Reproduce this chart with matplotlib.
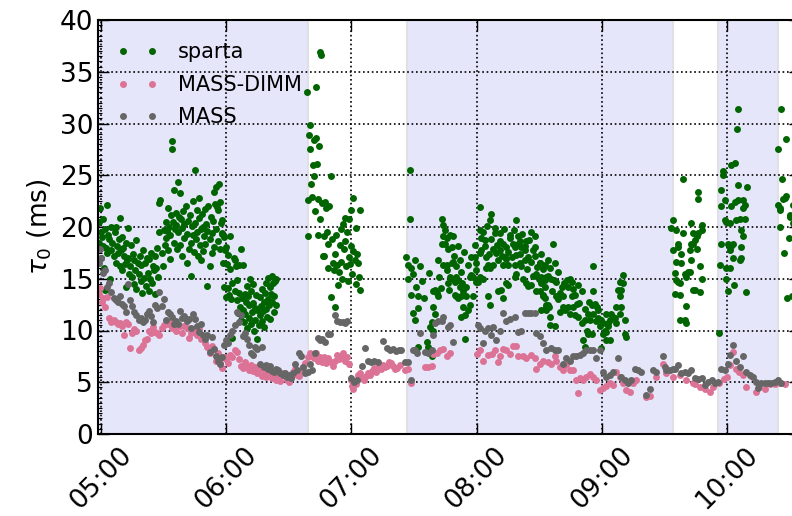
import datetime
import numpy as np
import matplotlib
matplotlib.use("Agg")
import matplotlib.pyplot as plt
import matplotlib.dates as mdates
from matplotlib.ticker import MultipleLocator

# times are minutes after 05:00, values are tau_0 in ms
sparta_a = [(-1, 18.5), (-1, 20.5), (-0.5, 21.8), (0, 19.5), (0, 17), (0.5, 19), (1, 20.8), (1, 18.2),
            (1.5, 16), (2, 19.8), (2, 13.9), (2.5, 18), (3, 22.1), (3, 17.5), (3.5, 19.2), (4, 18.8),
            (4.5, 15), (5, 17.8), (5, 20), (5.5, 18.5), (6, 17.2), (6.5, 19.5), (7, 20), (7, 16.5),
            (7.5, 18.2), (8, 17.5), (8.5, 18.8), (9, 20.9), (9, 16.2), (9.5, 17.8), (10, 15.8), (10, 19),
            (10.5, 18), (11, 17.2), (11.5, 16.4), (12, 14.2), (12, 18.5), (12.5, 16.8), (13, 19.9), (13, 17),
            (13.5, 15.5), (14, 16.2), (14.5, 18.3), (15, 15.2), (15.5, 17.4), (16, 14.5), (16, 16.8),
            (16.5, 15.8), (17, 18.7), (17, 14), (17.5, 16.5), (18, 15.5), (18.5, 17.2), (19, 14.8),
            (19, 16.3), (19.5, 13.6), (20, 17.8), (20.5, 15.1), (21, 16.5), (21.5, 14.3), (22, 17),
            (22.5, 15.6), (23, 13.8), (23, 16.9), (23.5, 15), (24, 17.5), (24.5, 14.6), (25, 16.2),
            (25.5, 15.8), (26, 13.5), (26, 17.2), (26.5, 16), (27, 18), (27.5, 15.2), (28, 22.3), (28, 19.5),
            (28.5, 22.6), (29, 17.5), (29.5, 16.2), (30, 19.7), (30.5, 18.3), (31, 20.5), (31, 18.9),
            (31.5, 19.6), (32, 21.8), (32, 17.8), (32.5, 20), (33, 19.2), (33, 16.9), (33.5, 21.2),
            (34, 28.3), (34, 27.5), (34.5, 20.5), (35, 23.6), (35, 18.5), (35.5, 19.8), (36, 21.4),
            (36, 20.2), (36.5, 17.9), (37, 24.3), (37, 19.5), (37.5, 21), (38, 23.3), (38, 18.3),
            (38.5, 20.8), (39, 19.9), (39, 17.2), (39.5, 21.5), (40, 20.3), (40, 18.9), (40.5, 22),
            (41, 19.3), (41, 16.5), (41.5, 20.6), (42, 17.9), (42.5, 21.2), (43, 18.5), (43, 15.3),
            (43.5, 20.1), (44, 19.2), (44, 22.5), (44.5, 17.6), (45, 25.5), (45, 20.4), (45.5, 18.8),
            (46, 21.6), (46, 19.5), (46.5, 17.2), (47, 20.9), (47, 22.8), (47.5, 18.3), (48, 19.8),
            (48, 16.8), (48.5, 21.3), (49, 20), (49, 17.7), (49.5, 19.1), (50, 21.7), (50, 18.4),
            (50.5, 20.3), (51, 14.3), (51, 19.6), (51.5, 22), (52, 18.8), (52, 16.2), (52.5, 21),
            (53, 19.4), (53, 17.5), (53.5, 20.6), (54, 23.4), (54, 18.1), (54.5, 22.2), (55, 23.9),
            (55, 19.8), (55.5, 21.9), (56, 21.6), (56, 18.6), (56.5, 24.2), (57, 22.4), (57, 17.9),
            (57.5, 20.4), (58, 19.3), (58, 20.7)]

sparta_b = [(58, 19.4), (58.5, 16.5), (59, 19), (59, 14.2), (59.5, 17.8), (60, 13.2), (60, 18.1),
            (60.5, 16.4), (61, 14.1), (61, 17.3), (61.5, 13.4), (62, 15.9), (62, 19.1), (62.5, 13),
            (63, 14.6), (63, 9.3), (63.5, 17), (64, 13.8), (64, 16.8), (64.5, 16.2), (65, 12.9),
            (65, 14.9), (65.5, 11.7), (66, 13.6), (66, 16.3), (66.5, 12.3), (67, 11), (67, 17.9),
            (67.5, 13.1), (68, 12), (68, 16.3), (68.5, 10.8), (69, 13.5), (69, 11.6), (69.5, 12.8),
            (70, 14.3), (70, 10.2), (70.5, 13.3), (71, 11.2), (71, 12.5), (71.5, 15), (72, 10.6),
            (72, 13.8), (72.5, 11.8), (73, 12.7), (73, 14.5), (73.5, 10), (74, 12.2), (74, 11),
            (74.5, 13.4), (75, 9.2), (75, 12), (75.5, 10.5), (76, 11.5), (76, 13.2), (76.5, 12.4),
            (77, 10.9), (77, 14), (77.5, 11.9), (78, 12.8), (78, 10.3), (78.5, 13.6), (79, 12.1),
            (79, 14.6), (79.5, 11.3), (80, 13), (80, 15.1), (80.5, 12.5), (81, 14.2), (81, 11.1),
            (81.5, 13.5), (82, 12.8), (82, 15.3), (82.5, 14.6), (83, 13.3), (83, 11.8), (83.5, 14.8),
            (84, 15), (84, 12.5)]

sparta_c = [(98.5, 33), (99, 22.6), (99, 19.1), (99.5, 28.9), (100, 29.9), (100, 27.5), (100.5, 24.2),
            (101, 22.9), (101.5, 26), (102, 28.4), (102, 24.9), (102.5, 21.5), (103, 33.5), (103, 28.6),
            (103.5, 26.1), (104, 19.2), (104, 22.7), (104.5, 27.8), (105, 36.9), (105.5, 36.6), (105, 20.8),
            (106, 22.3), (106.5, 17.2), (107, 19.1), (107, 17.2), (107.5, 22.4), (108, 21.8), (108.5, 19.5),
            (109, 18.4), (109, 16), (109.5, 22), (110, 24.9), (110, 13.2), (110.5, 18.8), (111, 16.5),
            (111.5, 15.8), (112, 12.3), (112, 17.4), (112.5, 19.2), (113, 16.3), (113.5, 14.4), (114, 15.7),
            (114.5, 18.3), (115, 19.8), (115, 16.6), (115.5, 15), (116, 20.3), (116.5, 17.9), (117, 18.6),
            (117, 20.9), (117.5, 16.2), (118, 19.5), (118.5, 14.8), (119, 20.8), (119, 17.1), (119.5, 16.4),
            (120, 18.2), (120, 21.6), (120.5, 15.5), (121, 22.8), (121, 17.7), (121.5, 16.8), (122, 19.9),
            (122, 14.5), (122.5, 17.4), (123, 16.5), (123.5, 15.2), (124, 13.9), (124, 21.6)]

sparta_d = [(148, 25.5), (148, 20.8), (146.4, 17.1), (147.2, 16.3), (148.8, 16), (149.6, 15.5),
            (150.4, 16.8), (147.2, 15), (148.8, 13.4), (151.2, 14.2), (152, 13.3), (149.6, 11.7),
            (150.4, 11), (152, 12.2), (152, 8.4), (156, 8.9), (156.8, 8.4), (157.6, 8.1), (158.4, 7.5),
            (159.2, 12.3), (160, 11.6), (158.4, 10.8), (159.2, 10), (157.6, 10.3), (160, 13.9),
            (160.8, 13.6), (161.6, 13.3), (159.2, 13.8), (163.2, 20.8), (164, 20.2), (164.8, 19.7),
            (164, 19.1), (165.6, 18.9), (163.2, 18.4), (164.8, 18.4), (167.2, 19.2), (168.8, 19.1),
            (168, 18.1), (166.4, 17.9), (165.6, 16.3), (164, 16.3), (161.6, 16.8), (168, 16.5),
            (168.8, 16.6), (167.2, 15.2), (168.8, 15), (170.3, 15.2), (171.1, 14.9), (169.5, 14.7),
            (166.4, 14.6), (171.9, 14.2), (170.3, 13.3), (172.7, 13.3), (173.5, 13.8), (172.7, 15.7),
            (169.5, 13.4), (171.1, 13.1), (175.1, 13.3), (176.7, 12.5), (175.9, 12), (174.3, 11.5),
            (172.7, 11.3), (173.5, 12.3), (177.5, 15.4), (176.7, 15.2), (178.3, 13.3), (174.3, 9.2),
            (179.1, 17.1), (177.5, 17.1), (181.5, 21.9), (187.1, 21.3), (186.6, 20.7), (199.1, 20.7),
            (181.5, 19.7), (182.3, 18.9), (183.9, 18.7), (179.1, 18.3), (179.9, 16.5), (181.5, 17.5),
            (184.7, 17.1), (185.5, 16.3), (186.3, 16), (187.9, 16.3), (188.7, 19.4), (191.1, 18.6),
            (192.7, 18.4), (194.3, 18.1), (195.9, 19.2), (197.5, 18.4), (198.3, 18.1), (199.9, 18.4),
            (200.7, 18.6), (201.5, 18.1), (203.1, 17.8), (203.9, 18.6), (206.3, 19.5), (207.9, 19.1),
            (207.9, 18.1), (207.1, 17.8), (204.7, 17.1), (203.1, 16.8), (200.7, 16.5), (198.3, 16.3),
            (195.1, 16.3), (192.7, 16.3), (191.1, 17.8), (190.3, 16.8), (189.5, 17.5), (193.5, 17.1),
            (184.7, 16), (183.1, 15), (181.5, 15.2), (178.3, 15.2), (179.9, 14.7), (185.5, 13.3),
            (186.3, 12.5), (190.3, 13.8), (191.9, 13.9), (192.7, 13.1), (194.3, 14.6), (195.1, 14.4),
            (198.3, 15.2), (199.1, 15.5), (201.5, 16.2), (202.3, 15), (203.9, 14.6), (204.7, 14.3),
            (206.3, 14.4), (208.7, 15.5), (210.3, 16.5), (211.1, 15.2), (210.3, 13.8), (208.7, 13.8),
            (211.9, 13.4), (212.7, 13.1), (213.5, 12.5), (212.7, 14.9), (214.3, 15.3), (214.7, 12.3),
            (213.5, 12), (179.9, 15.8), (180.7, 14.7)]

sparta_e = [(216.7, 18.4), (210.3, 16.5), (212.7, 16.3), (215.1, 16), (217.5, 16.5), (213.5, 15.2),
            (215.9, 15), (218.3, 14.7), (211.1, 14.6), (211.9, 13.3), (213.5, 12.3), (211.1, 12),
            (214.3, 12.5), (218.3, 13.3), (219.1, 13), (220.7, 14.2), (221.5, 13.3), (223.1, 14.9),
            (224.7, 15), (225.5, 14.7), (223.9, 14.2), (225.5, 13.3), (227.1, 13.4), (228.7, 14.4),
            (230.3, 13.8), (227.9, 12.6), (226.3, 12.3), (223.9, 12.3), (221.5, 12.3), (219.9, 11.8),
            (215.1, 11.3), (215.1, 10.5), (217.5, 10.4), (222.3, 12), (224.7, 11.6), (227.1, 11.5),
            (228.7, 11.3), (235.9, 13.8), (236.7, 12.6), (237.5, 12.3), (238.3, 12), (235.1, 12.5),
            (233.5, 11.6), (234.3, 11), (231.9, 11), (230.3, 10.7), (232.7, 10), (233.5, 9.7),
            (235.1, 9.7), (231.1, 9.1), (231.9, 8.4), (238.3, 11.2), (239.8, 11), (239, 10.4),
            (240.6, 10.7), (241.4, 10), (242.2, 9.9), (243, 10.7), (243.8, 11), (245.4, 11.3),
            (244.6, 11.6), (242.2, 11.6), (243, 10.4), (240.6, 9.7), (243.8, 9.1), (242.2, 9.1),
            (239.8, 8.3), (250.2, 15.4), (247.8, 13.9), (249.4, 13.9), (248.6, 13.3), (247, 12.3),
            (249.4, 12.3), (248.6, 11.6), (246.2, 11.2), (247, 10.7), (251, 11), (251.8, 9.4),
            (251, 9.7), (235.9, 16.2), (248.6, 14.7), (250.2, 14.6)]

# extra points filling the dense 07:30-09:00 cloud
sparta_e2 = [(182, 17.8), (183, 19.5), (184, 18.2), (185, 20.1), (186, 17.4), (187, 18.8), (188, 17.9),
             (189, 19.9), (190, 18.3), (191, 19.4), (192, 17.2), (193, 19.8), (194, 16.9), (195, 17.6),
             (196, 18.9), (197, 17.1), (198, 19.7), (199, 17.3), (200, 19.1), (201, 17.4), (202, 19.3),
             (203, 18.2), (204, 15.9), (205, 18.7), (206, 16.6), (207, 15.3), (208, 17.2), (209, 16.1),
             (210, 15), (211, 17.4), (212, 15.9), (213, 14.2), (214, 16.8), (216, 13.8), (217, 14.9),
             (219, 15.7), (220, 13.6), (222, 14.6), (226, 14), (229, 12.7), (232, 12.1), (234, 12.8),
             (236, 11.6), (237, 10.9), (166, 15.8), (167, 13.9), (169, 17.2), (170, 16.2), (171, 18.2),
             (172, 16.8), (173, 14.6), (174, 17.6), (175, 14.2), (176, 16.3), (162, 15.2), (163, 14.1),
             (154, 14.8), (155, 13.1), (157, 15.6), (153, 16.2)]

sparta_f = [(274.2, 20.7), (273.4, 19.9), (275.8, 19.7), (279, 19.4), (274.2, 17.8), (276.6, 18.4),
            (276.6, 18.1), (275.8, 16.6), (275, 15.6), (275.8, 14.9), (276.6, 14.7), (277.4, 14.6),
            (275, 13.5), (277.4, 13.4), (278.2, 16.5), (279.8, 15.5), (280.6, 15.2), (281.4, 15.7),
            (282.2, 15.7), (283, 16.8), (282.2, 17.8), (283, 18.4), (283.8, 18.4), (284.6, 18.7),
            (285.4, 19.1), (285.4, 17.9), (286.2, 19.4), (287.8, 19.7), (287.8, 20.2), (283, 20.4),
            (286.2, 23.4), (286.2, 22.7), (287, 16.2), (287.8, 15), (283.8, 13.9), (284.6, 13.9),
            (287, 13.7), (280.6, 12.4), (277.4, 11), (279.8, 11), (280.3, 10.7), (279, 24.6),
            (278.2, 17.4), (283.8, 19.4)]

sparta_g = [(296.5, 16.3), (297.3, 18.4), (297.3, 22), (297.3, 23.6), (298.1, 25.4), (298.1, 25),
            (298.9, 22.6), (298.9, 20.7), (299.7, 20.5), (300.5, 18.4), (301.3, 18.1), (302.1, 18.2),
            (301.3, 17.8), (302.9, 18.4), (302.1, 22), (301.3, 20.4), (302.1, 26), (303.7, 26.2),
            (305.3, 24.1), (303.7, 22.4), (304.5, 20.7), (306.1, 20.8), (306.9, 19.7), (306.9, 18.1),
            (306.9, 17), (306.1, 16.8), (305.3, 22.6), (307.7, 22.6), (307.7, 21.8), (308.5, 22.1),
            (308.5, 20.8), (307.7, 19.1), (309.6, 23.9), (302.9, 17), (299.7, 16), (301.3, 16),
            (299.7, 15), (300.5, 13.8), (303.3, 14.4), (309.3, 13.7), (305.3, 31.4), (305, 29.5),
            (296.2, 9.8)]

sparta_h = [(324.5, 27.5), (326.1, 31.4), (328.5, 28.5), (326.6, 24.6), (327.7, 22.8), (328.5, 23),
            (326.9, 22.7), (324.5, 22.1), (325.3, 21.8), (325.3, 21.6), (330.1, 21.2), (330.4, 21),
            (325.6, 20), (329.8, 18.9), (327.2, 17.5), (329, 13.1), (331.5, 20.4), (331, 13.3),
            (331.5, 22.1)]

massdimm_a = [(-1, 13.5), (-0.5, 14.1), (0.5, 12.8), (1, 13.1), (2, 12.3), (3, 13.2), (4, 11.2), (5, 10.8),
              (6, 11), (7, 10.8), (8, 10.6), (9, 10.7), (10, 10.4), (11, 9.6), (12, 10.8), (13, 10.6),
              (14, 8.3), (15, 9.8), (16, 10.1), (17, 10), (18, 8.1), (19, 8.3), (20, 8.6), (21, 9.1),
              (22, 9.2), (23, 10), (24, 9.8), (25, 10.3), (26, 9.9), (27, 9.8), (28, 9.6), (29, 10.2),
              (30, 10.5), (31, 10.7), (32, 10.6), (33, 10.8), (34, 10.2), (35, 10.3), (36, 10), (37, 10.6),
              (38, 10.4), (39, 9.8), (40, 10.4), (41, 10.2), (42, 9.3), (43, 9.8), (44, 10.1), (45, 9.9),
              (46, 9.6), (47, 10.1), (48, 9.2), (49, 9.4), (50, 8.8), (51, 8.4), (52, 7.8), (53, 8.5),
              (54, 8.2), (55, 7.1), (56, 7.8), (57, 6.9), (58, 6.4), (59, 7.4), (60, 7.2), (61, 6.9),
              (62, 7.6), (63, 7.4), (64, 8.1), (65, 7.9), (66, 7.2), (67, 6.6), (68, 6.4), (69, 7),
              (70, 6.6), (71, 6.2), (72, 6.7), (73, 6.1), (74, 6.5), (75, 5.9), (76, 6.3), (77, 5.6),
              (78, 5.8), (79, 5.5), (80, 6), (81, 5.6), (82, 5.4), (83, 5.8), (84, 5.2), (85, 5.5),
              (86, 5.1), (87, 5.9), (88, 5.6), (89, 5.2), (90, 5), (91, 5.4), (92, 6), (93, 6.3),
              (94, 5.7), (95, 5.6), (96, 6.2), (97, 6.5), (98, 6.9), (99, 7.4), (100, 7.8), (101, 7.5),
              (102, 7.3), (103, 7.8), (104, 7.1), (105, 7.4), (106, 7), (107, 7.4), (108, 6.9), (109, 7.3),
              (110, 7), (111, 6.6), (112, 7.1), (113, 7.6), (114, 7.2), (115, 7.4), (116, 7.8), (117, 7.1),
              (118, 7.4), (119, 6.8), (120, 5.2), (120.5, 4.6), (121, 4.3), (122, 4.8), (123, 5.7),
              (124, 5.9), (125, 5.4), (126, 5.2), (127, 5.6), (128, 5.9), (129, 5.7), (130, 6.1),
              (131, 6.4), (132, 6), (133, 6.6), (134, 6.3), (135, 6.7), (136, 6.5), (137, 6.6), (138, 7),
              (139, 6.9), (140, 6.6), (141, 6.3), (142, 6.4), (143.2, 6.7)]

massdimm_b = [(145.6, 6.2), (147.2, 6.3), (148.8, 4.9), (155.2, 6.5), (156.8, 6.5), (158.4, 6.6),
              (159.2, 7.7), (160.8, 7.8), (162.4, 8.1), (164, 8.2), (165.6, 7.5), (167.2, 7.8), (180, 7.7),
              (181.6, 8.1), (183.2, 7.1), (185.6, 7.6), (187.2, 7.7), (188.8, 8.1), (190.4, 7),
              (191.1, 7.5), (192.7, 8.2), (194.3, 8.1), (195.9, 7.7), (197.5, 8.5), (199.1, 8.5),
              (199.9, 7.5), (202.3, 7.5), (203.9, 7.3), (206.3, 7.6), (207.9, 7.3), (208.7, 6.3),
              (210.3, 6.8), (211.9, 7.1), (214.3, 7), (215.9, 6.8), (217.5, 7.5), (218.3, 7.1),
              (219.9, 6.5), (221.5, 6.2), (223, 6.7), (224.6, 6.2), (226.2, 6.2), (227.8, 5.2),
              (228.5, 4), (229.4, 5.4), (231, 5.2), (232.6, 5.5), (234.2, 5.8), (235.8, 5.5),
              (237.4, 5.2), (239, 4.25), (240.6, 4.4), (242.2, 4.6), (243.8, 4.9), (245.4, 4.7), (247, 6),
              (248.6, 5.5), (250.2, 4.9), (251.8, 4.25), (253.4, 4.1), (255, 4.9), (256.6, 5.2),
              (261.4, 3.6), (263, 3.7), (266.2, 5.5), (269.4, 6.8), (271, 5.9), (274.2, 5.5), (277.4, 5.7),
              (280.6, 5.2), (283.8, 4.9), (284.5, 4.8), (287, 4.5), (289.5, 4.3), (292, 4.1), (293.5, 4.5),
              (296, 4.9), (298.5, 5.3), (300, 5.5), (301.5, 6.7), (303, 7.95), (304.5, 6.3), (306, 6),
              (307.5, 5.7), (309, 4.5), (311.5, 5.6), (314, 4.1), (315.5, 4.5), (318, 4.3), (320.5, 4.8),
              (323, 4.8), (325.5, 4.9), (328, 4.8)]

mass_a = [(-1, 16.5), (-0.5, 17.9), (0, 17), (1, 15.6), (2, 15.8), (3, 14.2), (4, 14.6), (5, 13.7),
          (6, 13.1), (7, 12.9), (8, 12.8), (9, 13.3), (10, 12.6), (11, 12.4), (12, 11.8), (13, 14.5),
          (14, 12.9), (15, 12.4), (16, 11.8), (17, 11.5), (18, 11), (19, 11.2), (20, 10.8), (21, 11),
          (22, 11.6), (23, 11.9), (24, 11.4), (25, 10.8), (26, 12.5), (27, 12.2), (28, 13.7), (29, 12.4),
          (30, 13), (31, 11), (32, 11.8), (33, 11.6), (34, 11.3), (35, 10.6), (36, 10.9), (37, 10.6),
          (38, 11.9), (39, 11.2), (40, 11.4), (41, 10.9), (42, 11.1), (43, 10.2), (44, 11.6), (45, 11.1),
          (46, 10.4), (47, 9.9), (48, 10.6), (49, 9.6), (50, 9.2), (51, 9.6), (52, 7.9), (53, 9.4),
          (54, 8.2), (55, 7.5), (56, 7.1), (57, 6.8), (58, 7.4), (59, 8.6), (60, 9.1), (61, 8.8),
          (62, 9.6), (63, 10), (64, 10.5), (65, 11.8), (66, 10.8), (67, 11.5), (68, 9.5), (69, 9.8),
          (70, 9.2), (71, 8.6), (72, 7.8), (73, 7.6), (74, 8.4), (75, 8.2), (76, 6.8), (77, 8.4),
          (78, 6.5), (79, 6.7), (80, 6.3), (81, 6.6), (82, 6.1), (83, 6), (84, 6.3), (85, 6.2),
          (86, 5.9), (87, 5.7), (88, 5.9), (89, 5.5), (90, 5.7), (91, 5.4), (92, 5.9), (93, 6.8),
          (94, 6.2), (95, 7.8), (96, 7.5), (97, 6.5), (98, 5.9), (99, 6), (100, 6.8), (101, 6.2),
          (102.5, 7.8), (104, 9.3), (105, 9.1), (106, 9.2), (107.3, 8.9), (108.7, 9.7), (109.7, 9.7),
          (112, 11.5), (113, 10.9), (114.5, 10.8), (116, 10.8), (117, 10.7), (118, 10.9), (120, 5.4),
          (121.2, 5.05), (122.6, 5.2), (124.9, 6.6), (126.5, 8.3), (128, 7.1), (129.5, 7), (131, 7.1),
          (132.7, 7), (135.2, 9), (137, 8.3), (138.5, 8.1), (140, 8.2), (141.5, 8), (143, 8.1)]

mass_b = [(144, 8.1), (145.6, 7), (147.2, 7), (148.8, 5.2), (149.5, 8.1), (150.4, 8.1), (151.4, 7.8),
          (152.8, 9.8), (155.2, 7.9), (156.8, 7.8), (158.4, 8.1), (159.2, 9.6), (160, 10.7), (161.6, 10.9),
          (163.2, 10.9), (164, 11.3), (166.4, 10.3), (167.2, 10.5), (168.8, 8.9), (180.7, 10.5),
          (181.5, 10.2), (183.1, 8.8), (183.9, 10), (185.5, 10.2), (187.1, 9.6), (187.9, 10.3),
          (189.5, 9.1), (191.1, 10), (192.7, 11.7), (194.3, 10.9), (195.9, 11.1), (198.3, 11.3),
          (199.9, 9.9), (201.5, 10), (203.1, 11.7), (204.7, 11.7), (206.3, 11.7), (207.9, 11.7),
          (208.7, 9.8), (210.3, 9.5), (211.9, 8.8), (213.5, 8.1), (215.9, 8.3), (217.5, 8.1),
          (219.1, 8.1), (221.5, 6.8), (223, 7.3), (224.6, 7.1), (226.2, 7.5), (227.8, 7.5), (229.4, 7.6),
          (231, 7.8), (232.6, 8.1), (234.2, 8.1), (235.8, 8.1), (237.4, 7.3), (239, 8.1), (240.6, 6),
          (242.2, 5.5), (243.8, 5.7), (245.4, 6), (247.8, 7.3), (249.4, 5.5), (251, 5.2), (252.6, 4.9),
          (254.2, 5.2), (255.8, 6.3), (257.4, 6.2), (259, 6), (261.4, 3.8), (263, 4.3), (264.6, 6.2),
          (266.2, 6), (269.4, 7.5), (270.2, 6.5), (271, 6.2), (272.6, 6.2), (274.2, 6.3), (275, 6.3),
          (276.6, 6.7), (278.2, 5.9), (279.8, 6), (281.4, 5.9), (283, 6.2), (284.6, 5.4), (286.2, 5.3),
          (287.8, 5.4), (289.4, 4.7), (291, 5.05), (292.6, 5.2), (294.2, 4.9), (295.7, 5.05),
          (297.3, 6.3), (298.9, 6.2), (300.5, 6.8), (301.3, 7.6), (302.9, 8.6), (304.5, 7.1),
          (306.1, 6.5), (307.7, 7.5), (309.3, 6), (310.9, 5.7), (312.5, 5.5), (314.1, 5.05),
          (314.9, 4.4), (316.5, 4.9), (318.1, 4.9), (319.7, 4.9), (321.3, 4.9), (322.9, 5), (324.5, 5.2),
          (326.1, 4.9)]

# shaded intervals, minutes after 05:00
spans = [(-10, 99.2), (146.6, 274.0), (295.5, 324.3)]

start = mdates.date2num(datetime.datetime(2016, 1, 1, 5, 0))


def to_xy(points):
    t, v = zip(*points)
    return start + np.array(t) / 1440.0, np.array(v)


sparta = to_xy(sparta_a + sparta_b + sparta_c + sparta_d + sparta_e + sparta_e2
               + sparta_f + sparta_g + sparta_h)
massdimm = to_xy(massdimm_a + massdimm_b)
mass = to_xy(mass_a + mass_b)

fig = plt.figure(figsize=(7.92, 5.16), dpi=100)
ax = fig.add_axes([98 / 792, 82 / 516, 702 / 792, 414 / 516])

for a, b in spans:
    ax.axvspan(start + a / 1440.0, start + b / 1440.0, facecolor=(0.9, 0.9, 0.98),
               edgecolor=(0.88, 0.88, 0.9), linewidth=1.5, zorder=0.5)

ax.plot(sparta[0], sparta[1], 'o', color='#006400', ms=5, mew=0, label='sparta')
ax.plot(massdimm[0], massdimm[1], 'o', color='#dc7396', ms=5, mew=0, label='MASS-DIMM')
ax.plot(mass[0], mass[1], 'o', color='#666666', ms=5, mew=0, label='MASS')

ax.set_xlim(start - 1.44 / 1440.0, start + 335 / 1440.0)
ax.set_ylim(0, 40)
ax.xaxis.set_major_locator(mdates.HourLocator())
ax.xaxis.set_major_formatter(mdates.DateFormatter('%H:%M'))
ax.yaxis.set_major_locator(MultipleLocator(5))
ax.yaxis.set_minor_locator(MultipleLocator(0.5))

ax.grid(True, color='k', linestyle=':', linewidth=1.2)
ax.tick_params(which='major', direction='in', length=8, width=1, labelsize=19, top=True, right=True)
ax.tick_params(axis='x', pad=6)
ax.tick_params(which='minor', direction='in', length=3, width=0.8, right=True)
for lab in ax.get_xticklabels():
    lab.set_rotation(45)
    lab.set_ha('center')
for s in ax.spines.values():
    s.set_linewidth(1.5)

ax.set_ylabel(r'$\tau_0$ (ms)', fontsize=19)
ax.legend(loc='upper left', bbox_to_anchor=(0.0142, 0.966), numpoints=2, frameon=False,
          fontsize=15, handlelength=2, handletextpad=0.95, labelspacing=0.6, borderaxespad=0)

fig.savefig('out.png', dpi=100)
